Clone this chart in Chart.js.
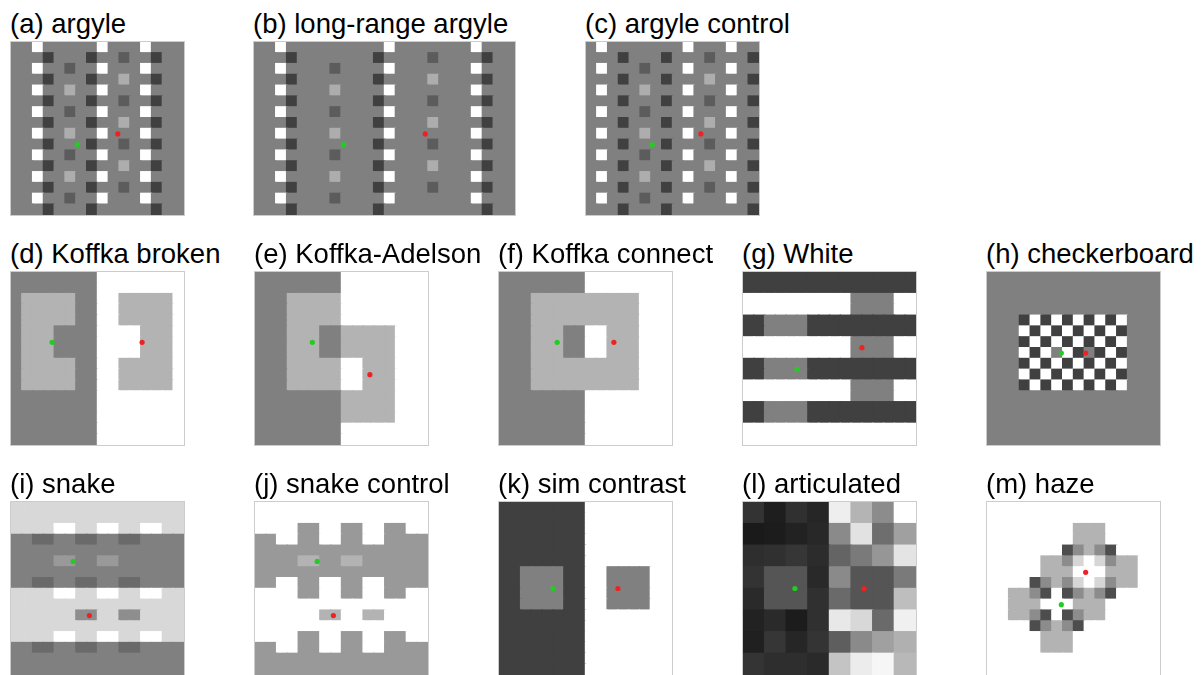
<!DOCTYPE html>
<html>
<head>
<meta charset="utf-8">
<script src="https://cdn.jsdelivr.net/npm/chart.js@4.4.1/dist/chart.umd.min.js"></script>
<style>
  html, body { margin: 0; padding: 0; background: #fff; }
  body { width: 1202px; height: 675px; position: relative; overflow: hidden;
         font-family: "Liberation Sans", Arial, sans-serif; }
  .title { position: absolute; font-size: 27.5px; line-height: 27px; color: #000; white-space: nowrap; }
  canvas { position: absolute; outline: 1px solid #cccccc; }
</style>
</head>
<body>
<script>
// each stimulus is a grid of grey cells, rows listed top to bottom
const argyleRows = [
  '..W.....W...W...',
  '...D...D..d..D..',
  '..W..d..W...W...',
  '...D...D..l..D..',
  '..W..l..W...W...',
  '...D...D..d..D..',
  '..W..d..W...W...',
  '...D...D..l..D..',
  '..W..l..W...W...',
  '...D...D..d..D..',
  '..W..d..W...W...',
  '...D...D..l..D..',
  '..W..l..W...W...',
  '...D...D..d..D..',
  '..W..d..W...W...',
  '...D...D.....D..'
];
const longArgyleRows = [
  '..W.........W.......W...',
  '...D.......D....d....D..',
  '..W....d....W.......W...',
  '...D.......D....l....D..',
  '..W....l....W.......W...',
  '...D.......D....d....D..',
  '..W....d....W.......W...',
  '...D.......D....l....D..',
  '..W....l....W.......W...',
  '...D.......D....d....D..',
  '..W....d....W.......W...',
  '...D.......D....l....D..',
  '..W....l....W.......W...',
  '...D.......D....d....D..',
  '..W....d....W.......W...',
  '...D.......D.........D..'
];
const argyleControlRows = [
  '.W.......W...W..',
  '...D...D...d...D',
  '.W...d...W...W..',
  '...D...D...l...D',
  '.W...l...W...W..',
  '...D...D...d...D',
  '.W...d...W...W..',
  '...D...D...l...D',
  '.W...l...W...W..',
  '...D...D...d...D',
  '.W...d...W...W..',
  '...D...D...l...D',
  '.W...l...W...W..',
  '...D...D...d...D',
  '.W...d...W...W..',
  '...D...D.......D'
];
const argylePalette = { '.': '#808080', W: '#ffffff', D: '#404040', d: '#5c5c5c', l: '#adadad' };

const koffkaBrokenRows = [
  'GGGGGGGGWWWWWWWW', 'GGGGGGGGWWWWWWWW',
  'GLLLLLGGWWLLLLLW', 'GLLLLLGGWWLLLLLW', 'GLLLLLGGWWLLLLLW',
  'GLLLGGGGWWWWLLLW', 'GLLLGGGGWWWWLLLW', 'GLLLGGGGWWWWLLLW',
  'GLLLLLGGWWLLLLLW', 'GLLLLLGGWWLLLLLW', 'GLLLLLGGWWLLLLLW',
  'GGGGGGGGWWWWWWWW', 'GGGGGGGGWWWWWWWW', 'GGGGGGGGWWWWWWWW',
  'GGGGGGGGWWWWWWWW', 'GGGGGGGGWWWWWWWW'
];
const koffkaAdelsonRows = [
  'GGGGGGGGWWWWWWWW', 'GGGGGGGGWWWWWWWW',
  'GGGLLLLLWWWWWWWW', 'GGGLLLLLWWWWWWWW', 'GGGLLLLLWWWWWWWW',
  'GGGLLLGGLLLLLWWW', 'GGGLLLGGLLLLLWWW', 'GGGLLLGGLLLLLWWW',
  'GGGLLLLLWWLLLWWW', 'GGGLLLLLWWLLLWWW', 'GGGLLLLLWWLLLWWW',
  'GGGGGGGGLLLLLWWW', 'GGGGGGGGLLLLLWWW', 'GGGGGGGGLLLLLWWW',
  'GGGGGGGGWWWWWWWW', 'GGGGGGGGWWWWWWWW'
];
const koffkaConnectRows = [
  'GGGGGGGGWWWWWWWW', 'GGGGGGGGWWWWWWWW',
  'GGGLLLLLLLLLLWWW', 'GGGLLLLLLLLLLWWW', 'GGGLLLLLLLLLLWWW',
  'GGGLLLGGWWLLLWWW', 'GGGLLLGGWWLLLWWW', 'GGGLLLGGWWLLLWWW',
  'GGGLLLLLLLLLLWWW', 'GGGLLLLLLLLLLWWW', 'GGGLLLLLLLLLLWWW',
  'GGGGGGGGWWWWWWWW', 'GGGGGGGGWWWWWWWW', 'GGGGGGGGWWWWWWWW',
  'GGGGGGGGWWWWWWWW', 'GGGGGGGGWWWWWWWW'
];
const koffkaPalette = { G: '#808080', W: '#ffffff', L: '#b3b3b3' };

const whiteRows = [
  'DDDDDDDDDDDDDDDD', 'DDDDDDDDDDDDDDDD',
  'WWWWWWWWWWGGGGWW', 'WWWWWWWWWWGGGGWW',
  'DDGGGGDDDDDDDDDD', 'DDGGGGDDDDDDDDDD',
  'WWWWWWWWWWGGGGWW', 'WWWWWWWWWWGGGGWW',
  'DDGGGGDDDDDDDDDD', 'DDGGGGDDDDDDDDDD',
  'WWWWWWWWWWGGGGWW', 'WWWWWWWWWWGGGGWW',
  'DDGGGGDDDDDDDDDD', 'DDGGGGDDDDDDDDDD',
  'WWWWWWWWWWWWWWWW', 'WWWWWWWWWWWWWWWW'
];
const checkerRows = [
  'GGGGGGGGGGGGGGGG', 'GGGGGGGGGGGGGGGG', 'GGGGGGGGGGGGGGGG', 'GGGGGGGGGGGGGGGG',
  'GGGDWDWDWDWDWGGG',
  'GGGWDWDWDWDWDGGG',
  'GGGDWDWDWDWDWGGG',
  'GGGWDWGWDGDWDGGG',
  'GGGDWDWDWDWDWGGG',
  'GGGWDWDWDWDWDGGG',
  'GGGDWDWDWDWDWGGG',
  'GGGGGGGGGGGGGGGG', 'GGGGGGGGGGGGGGGG', 'GGGGGGGGGGGGGGGG',
  'GGGGGGGGGGGGGGGG', 'GGGGGGGGGGGGGGGG'
];
const basicPalette = { G: '#808080', W: '#ffffff', D: '#404040' };

const snakeRows = [
  'SSSSSSSSSSSSSSSS', 'SSSSSSSSSSSSSSSS',
  'SSSSWWSSWWSSWWSS',
  'GGKKGGKKGGKKGGGG',
  'GGGGGGGGGGGGGGGG',
  'GGGGTTGGTTGGGGGG',
  'GGGGGGGGGGGGGGGG',
  'GGKKGGKKGGKKGGGG',
  'SSSSWWSSWWSSWWSS',
  'SSSSSSSSSSSSSSSS',
  'SSSSSSUUSSUUSSSS',
  'SSSSSSSSSSSSSSSS',
  'SSSSWWSSWWSSWWSS',
  'GGKKGGKKGGKKGGGG',
  'GGGGGGGGGGGGGGGG', 'GGGGGGGGGGGGGGGG'
];
const snakePalette = { S: '#d8d8d8', G: '#808080', W: '#ffffff', K: '#6a6a6a', T: '#999999', U: '#8e8e8e' };

const snakeControlRows = [
  'WWWWWWWWWWWWWWWW', 'WWWWWWWWWWWWWWWW',
  'WWWWBBWWBBWWBBWW',
  'BBWWBBWWBBWWBBBB',
  'BBBBBBBBBBBBBBBB',
  'BBBBTTBBTTBBBBBB',
  'BBBBBBBBBBBBBBBB',
  'BBWWBBWWBBWWBBBB',
  'WWWWBBWWBBWWBBWW',
  'WWWWWWWWWWWWWWWW',
  'WWWWWWTTWWTTWWWW',
  'WWWWWWWWWWWWWWWW',
  'WWWWBBWWBBWWBBWW',
  'BBWWBBWWBBWWBBBB',
  'BBBBBBBBBBBBBBBB', 'BBBBBBBBBBBBBBBB'
];
const snakeControlPalette = { W: '#ffffff', B: '#999999', T: '#b3b3b3' };

const simContrastRows = [
  'DDDDDDDDWWWWWWWW', 'DDDDDDDDWWWWWWWW', 'DDDDDDDDWWWWWWWW',
  'DDDDDDDDWWWWWWWW', 'DDDDDDDDWWWWWWWW', 'DDDDDDDDWWWWWWWW',
  'DDGGGGDDWWGGGGWW', 'DDGGGGDDWWGGGGWW', 'DDGGGGDDWWGGGGWW', 'DDGGGGDDWWGGGGWW',
  'DDDDDDDDWWWWWWWW', 'DDDDDDDDWWWWWWWW', 'DDDDDDDDWWWWWWWW',
  'DDDDDDDDWWWWWWWW', 'DDDDDDDDWWWWWWWW', 'DDDDDDDDWWWWWWWW'
];

// articulated: grey levels 0-255, target blocks = 85
const articulatedRows = [
  [51, 30, 48, 38, 238, 180, 140, 255],
  [26, 28, 34, 40, 138, 226, 110, 160],
  [46, 48, 54, 44, 100, 122, 150, 228],
  [51, 85, 85, 41, 138, 85, 85, 122],
  [42, 85, 85, 48, 106, 85, 85, 190],
  [34, 42, 28, 48, 232, 216, 106, 240],
  [32, 54, 38, 52, 94, 138, 160, 176],
  [52, 46, 46, 42, 196, 236, 246, 184]
];

const hazeRows = [
  '................',
  '................',
  '........LLL.....',
  '........LLL.....',
  '.......DMLMD....',
  '.....LLMl.lMLL..',
  '.....LLL...LLL..',
  '....DMLMl.lMLL..',
  '..LLMD.DMLMD....',
  '..LLL...LLL.....',
  '..LLMD.DMLL.....',
  '....DMLMD.......',
  '.....LLL........',
  '.....LLL........',
  '................',
  '................'
];
const hazePalette = { '.': '#ffffff', L: '#b3b3b3', M: '#8c8c8c', l: '#d6d6d6', D: '#4d4d4d' };

// target markers [x, y] in cell units from the top-left corner: green first, red second
const dotColors = ['#22cc22', '#ee2222'];
const argyleDots = [[5.5, 9.5], [10.5, 8.5]];
const longArgyleDots = [[7.5, 9.5], [16.5, 8.5]];
const argyleControlDots = [[5.5, 9.5], [11.5, 8.5]];
const koffkaBrokenDots = [[2.4, 6.5], [13.5, 6.5]];
const koffkaAdelsonDots = [[4.4, 6.5], [11.5, 9.5]];
const koffkaConnectDots = [[4.5, 6.5], [11.5, 6.5]];
const whiteDots = [[4, 9], [12, 7]];
const checkerDots = [[6.5, 7.5], [9.5, 7.5]];
const snakeDots = [[5, 5.5], [7, 10.5]];
const snakeControlDots = [[5, 5.5], [7, 10.5]];
const simContrastDots = [[4, 8], [12, 8]];
const articulatedDots = [[2, 4], [6, 4]];
const hazeDots = [[6.5, 9.5], [9.5, 6.5]];

const panels = [
  { title: '(a) argyle', rows: argyleRows, pal: argylePalette, dots: argyleDots, x: 11, y: 42, w: 173 },
  { title: '(b) long-range argyle', rows: longArgyleRows, pal: argylePalette, dots: longArgyleDots, x: 254, y: 42, w: 261 },
  { title: '(c) argyle control', rows: argyleControlRows, pal: argylePalette, dots: argyleControlDots, x: 586, y: 42, w: 173 },
  { title: '(d) Koffka broken', rows: koffkaBrokenRows, pal: koffkaPalette, dots: koffkaBrokenDots, x: 11, y: 272, w: 173 },
  { title: '(e) Koffka-Adelson', rows: koffkaAdelsonRows, pal: koffkaPalette, dots: koffkaAdelsonDots, x: 255, y: 272, w: 173 },
  { title: '(f) Koffka connect', rows: koffkaConnectRows, pal: koffkaPalette, dots: koffkaConnectDots, x: 499, y: 272, w: 173 },
  { title: '(g) White', rows: whiteRows, pal: basicPalette, dots: whiteDots, x: 743, y: 272, w: 173 },
  { title: '(h) checkerboard', rows: checkerRows, pal: basicPalette, dots: checkerDots, x: 987, y: 272, w: 173 },
  { title: '(i) snake', rows: snakeRows, pal: snakePalette, dots: snakeDots, x: 11, y: 502, w: 173 },
  { title: '(j) snake control', rows: snakeControlRows, pal: snakeControlPalette, dots: snakeControlDots, x: 255, y: 502, w: 173 },
  { title: '(k) sim contrast', rows: simContrastRows, pal: basicPalette, dots: simContrastDots, x: 499, y: 502, w: 173 },
  { title: '(l) articulated', rows: articulatedRows, pal: null, dots: articulatedDots, x: 743, y: 502, w: 173 },
  { title: '(m) haze', rows: hazeRows, pal: hazePalette, dots: hazeDots, x: 987, y: 502, w: 173 }
];
const panelHeight = 173;

function cellColor(row, i, pal) {
  if (typeof row === 'string') return pal[row[i]];
  const v = row[i];
  return `rgb(${v},${v},${v})`;
}

function drawPanel(p) {
  const title = document.createElement('div');
  title.className = 'title';
  title.textContent = p.title;
  title.style.left = (p.x - 1) + 'px';
  title.style.top = (p.y - 32) + 'px';
  document.body.appendChild(title);

  const canvas = document.createElement('canvas');
  canvas.width = p.w;
  canvas.height = panelHeight;
  canvas.style.left = p.x + 'px';
  canvas.style.top = p.y + 'px';
  document.body.appendChild(canvas);

  const nRows = p.rows.length;
  const nCols = p.rows[0].length;
  const labels = Array.from({ length: nCols }, (_, i) => i);

  // one stacked dataset per grid row, bottom row first
  const cellSets = [];
  for (let r = nRows - 1; r >= 0; r--) {
    const row = p.rows[r];
    cellSets.push({
      type: 'bar',
      data: labels.map(() => 1),
      backgroundColor: labels.map(i => cellColor(row, i, p.pal)),
      borderWidth: 0,
      barPercentage: 1,
      categoryPercentage: 1,
      grouped: false,
      inflateAmount: 0.7,   // hides the hairline seams between cells
      order: 1,
      xAxisID: 'x',
      yAxisID: 'y'
    });
  }

  const dotSet = {
    type: 'scatter',
    data: p.dots.map(d => ({ x: d[0], y: d[1] })),
    pointBackgroundColor: dotColors,
    pointBorderWidth: 0,
    pointRadius: 2.6,
    order: 0,
    xAxisID: 'x2',
    yAxisID: 'y2'
  };

  new Chart(canvas, {
    type: 'bar',
    data: { labels: labels, datasets: [dotSet].concat(cellSets) },
    options: {
      responsive: false,
      animation: false,
      events: [],
      layout: { padding: 0, autoPadding: false },
      plugins: { legend: { display: false }, tooltip: { enabled: false } },
      scales: {
        x: { type: 'category', display: false, stacked: true, offset: true },
        y: { type: 'linear', display: false, stacked: true, min: 0, max: nRows },
        x2: { type: 'linear', display: false, min: 0, max: nCols },
        y2: { type: 'linear', display: false, min: 0, max: nRows, reverse: true }
      }
    }
  });
}

panels.forEach(drawPanel);
</script>
</body>
</html>
